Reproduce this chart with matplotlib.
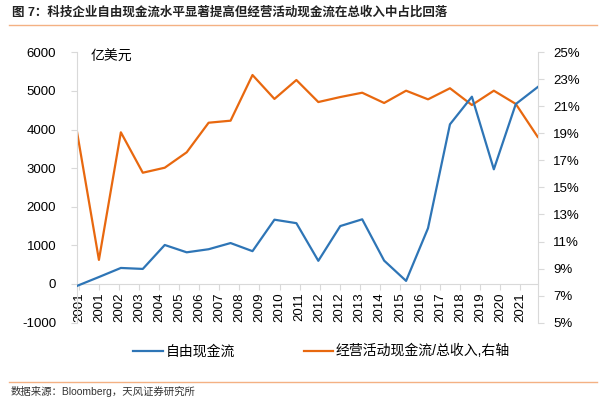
import matplotlib
matplotlib.use('Agg')

import numpy as np
import matplotlib.pyplot as plt
from matplotlib.ticker import FuncFormatter

plt.rcParams['font.family'] = ['Liberation Sans', 'Noto Sans CJK SC']
plt.rcParams['axes.unicode_minus'] = False

# free cash flow (100m USD), left axis
fcf = [-50, 180, 415, 390, 1010, 820, 900, 1060, 850, 1665, 1575, 600,
       1500, 1675, 605, 80, 1445, 4135, 4850, 2970, 4660, 5100]
# operating cash flow / total revenue (%), right axis
ocf_ratio = [19.13, 9.64, 19.08, 16.09, 16.46, 17.60, 19.79, 19.94, 23.32, 21.55, 22.95,
             21.32, 21.69, 22.01, 21.25, 22.16, 21.52, 22.34, 21.10, 22.16, 21.18, 18.74]
# tick labels as shown on the date axis
xlabels = ['2001', '2001', '2002', '2003', '2004', '2005', '2006', '2007', '2008', '2009',
           '2010', '2011', '2012', '2012', '2013', '2014', '2015', '2016', '2017', '2018',
           '2019', '2020', '2021']

blue = '#2E75B6'
orange = '#E8680F'
grey = '#D9D9D9'

fig = plt.figure(figsize=(6, 3.99), dpi=100)
ax = fig.add_axes([0.1283, 0.1915, 0.7679, 0.6774])
ax2 = ax.twinx()

x = np.arange(len(fcf))
ax.plot(x, fcf, color=blue, lw=1.6, zorder=3)
ax2.plot(x, ocf_ratio, color=orange, lw=1.6)
ax.set_zorder(ax2.get_zorder() + 1)
ax.patch.set_visible(False)

ax.set_xlim(0, len(fcf) - 1)
ax.set_ylim(-1000, 6000)
ax.set_yticks(range(-1000, 6001, 1000))
ax2.set_ylim(5, 25)
ax2.set_yticks(range(5, 26, 2))
ax2.yaxis.set_major_formatter(FuncFormatter(lambda v, p: f'{v:.0f}%'))

# x axis drawn at zero, labels rotated under it
ax.spines['bottom'].set_position(('data', 0))
ax.spines['bottom'].set_color(grey)
ax.spines['top'].set_visible(False)
ax.spines['right'].set_visible(False)
ax.spines['left'].set_color(grey)
for s in ['top', 'left', 'bottom']:
    ax2.spines[s].set_visible(False)
ax2.spines['right'].set_color(grey)

xpos = np.linspace(0.09, 20.2, len(xlabels))
ax.set_xticks(xpos)
ax.set_xticklabels(xlabels, rotation=90, fontsize=9.5)
ax.tick_params(axis='x', colors=grey, labelcolor='black', length=4, width=0.8, pad=2)
ax.tick_params(axis='y', colors=grey, labelcolor='black', length=4, width=0.8,
               labelsize=9.5, pad=11)
ax2.tick_params(axis='y', colors=grey, labelcolor='black', length=4, width=0.8,
                labelsize=9.5, pad=7)

ax.text(0.03, 0.985, '亿美元', transform=ax.transAxes, fontsize=10, va='center', ha='left')

# title and rules
fig.text(0.02, 0.968, '图 7：科技企业自由现金流水平显著提高但经营活动现金流在总收入中占比回落',
         fontsize=9, fontweight='bold', color='#222222', va='center', ha='left')
fig.add_artist(plt.Line2D([0.015, 0.995], [0.938, 0.938], color='#F4B183', lw=1))
fig.add_artist(plt.Line2D([0.015, 0.995], [0.043, 0.043], color='#F4B183', lw=1))

# legend
fig.add_artist(plt.Line2D([0.222, 0.272], [0.12, 0.12], color=blue, lw=1.6))
fig.text(0.277, 0.12, '自由现金流', fontsize=10, va='center', ha='left')
fig.add_artist(plt.Line2D([0.507, 0.555], [0.12, 0.12], color=orange, lw=1.6))
fig.text(0.560, 0.12, '经营活动现金流/总收入,右轴', fontsize=10, va='center', ha='left')

fig.text(0.018, 0.018, '数据来源：Bloomberg，天风证券研究所', fontsize=7.5, color='#333333',
         va='center', ha='left')

fig.savefig('out.png', dpi=100)
